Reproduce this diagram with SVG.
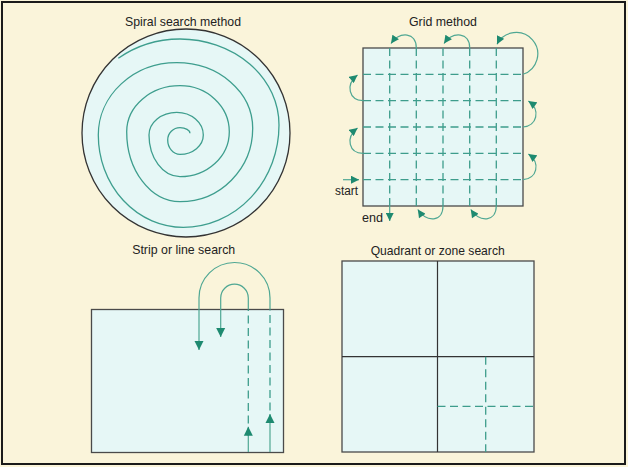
<svg xmlns="http://www.w3.org/2000/svg" width="628" height="467" viewBox="0 0 628 467">
<style>
.title{font-family:"Liberation Sans",Arial,sans-serif;font-size:13px;fill:#222;text-anchor:middle}
.lbl{font-family:"Liberation Sans",Arial,sans-serif;font-size:12.5px;fill:#222}
.box{fill:#E6F7F6;stroke:#4a4a4a;stroke-width:1.3}
.dash{fill:none;stroke:#3E9D8C;stroke-width:1.3;stroke-dasharray:8 4.5}
.loop{fill:none;stroke:#4FA793;stroke-width:1.2}
.solid{fill:none;stroke:#333;stroke-width:1.2}
.spiral{fill:none;stroke:#3E9E8E;stroke-width:1.3}
</style>
<defs>
<marker id="ah" viewBox="0 0 10 10" refX="10" refY="5" markerUnits="userSpaceOnUse" markerWidth="9" markerHeight="8" orient="auto">
<path d="M0,0 L10,5 L0,10 z" fill="#1E8A70"/>
</marker>
<marker id="ahl" viewBox="0 0 10 10" refX="10" refY="5" markerUnits="userSpaceOnUse" markerWidth="9" markerHeight="10" orient="auto">
<path d="M0,0 L10,5 L0,10 z" fill="#1E8A70"/>
</marker>
</defs>
<rect x="0" y="0" width="628" height="467" fill="#FAF4DA"/>
<rect x="2" y="2" width="623" height="462" fill="none" stroke="#1a1a1a" stroke-width="2"/>

<g id="spiral-panel">
<text class="title" x="183" y="26" textLength="116" lengthAdjust="spacingAndGlyphs">Spiral search method</text>
<circle cx="186" cy="133" r="104" fill="#E6F7F6" stroke="#333" stroke-width="1.3"/>
<path class="spiral" d="M190,133.3 A10,5.6 0 0 0 180,127.7 A12.3,12.3 0 0 0 167.7,140 A12.3,14.3 0 0 0 180,154.3 A23.3,19.3 0 0 0 203.3,135 A26.6,22.7 0 0 0 176.7,112.3 A27.7,22.7 0 0 0 149,135 A31,41.7 0 0 0 180,176.7 A49.3,45 0 0 0 229.3,131.7 A49.3,46 0 0 0 180,85.7 A53.3,46 0 0 0 126.7,131.7 A53.3,70 0 0 0 180,201.7 A72.7,73.4 0 0 0 252.7,128.3 A76,65.6 0 0 0 176.7,62.7 A78.4,72.3 0 0 0 98.3,135 A85,92.3 0 0 0 183.3,227.3 A95.7,102.3 0 0 0 279,125 A99,86 0 0 0 180,39 A99,86 0 0 0 118.3,58.3"/>
</g>

<g id="grid-panel">
<text class="title" x="443" y="26" textLength="68" lengthAdjust="spacingAndGlyphs">Grid method</text>
<rect class="box" x="363" y="48" width="160" height="158"/>
<path class="dash" d="M363,74.3 H523 M363,100.7 H523 M363,127 H523 M363,153.3 H523 M363,179.7 H523 M389.7,48 V206 M416.3,48 V206 M443,48 V206 M469.7,48 V206 M496.3,48 V206"/>
<text class="lbl" x="335" y="194.5" textLength="23" lengthAdjust="spacingAndGlyphs">start</text>
<text class="lbl" x="362" y="222" textLength="21" lengthAdjust="spacingAndGlyphs">end</text>
</g>

<g id="strip-panel">
<text class="title" x="183.7" y="254" textLength="103" lengthAdjust="spacingAndGlyphs">Strip or line search</text>
<rect class="box" x="91.5" y="309.5" width="192" height="143"/>
</g>

<g id="quadrant-panel">
<text class="title" x="437.7" y="254.5" textLength="134" lengthAdjust="spacingAndGlyphs">Quadrant or zone search</text>
<rect class="box" x="342" y="261" width="192" height="191"/>
<path class="solid" d="M437.5,261 V452 M342,356.7 H534"/>
<path class="dash" d="M485.7,356.7 V452 M437.5,406.3 H534"/>
</g>

<g id="connectors">
<path class="loop" d="M343,179.7 H359" marker-end="url(#ah)"/>
<path class="loop" d="M523,179.7 C537,179 541,163 528.4,154" marker-end="url(#ah)"/>
<path class="loop" d="M363,153.3 C349,153 345,138 357.5,128" marker-end="url(#ah)"/>
<path class="loop" d="M523,127 C537,126 541,110 528.4,101" marker-end="url(#ah)"/>
<path class="loop" d="M363,100.7 C349,100 345,85 357.5,75" marker-end="url(#ah)"/>
<path class="loop" d="M523,74.3 A21.5,21.5 0 1 0 497,44.3" marker-end="url(#ah)"/>
<path class="loop" d="M496.3,206 C496,222 480,223 470.8,209.5" marker-end="url(#ah)"/>
<path class="loop" d="M469.7,48 C470,32 453,31 444,43.5" marker-end="url(#ah)"/>
<path class="loop" d="M443,206 C443,222 427,223 417.8,209.5" marker-end="url(#ah)"/>
<path class="loop" d="M416.3,48 C416.5,32 400,31 391,43.5" marker-end="url(#ah)"/>
<path class="loop" d="M389.7,206 V221" marker-end="url(#ah)"/>

<path class="loop" d="M270,309.5 V298 A35.5,35.5 0 0 0 199,298 V350" marker-end="url(#ahl)"/>
<path class="loop" d="M248.3,309.5 V298 A13.8,13.8 0 0 0 220.7,298 V337" marker-end="url(#ahl)"/>
<path class="dash" d="M270,423 V309.5 M248.3,436 V309.5"/>
<path class="loop" d="M270,452 V414" marker-end="url(#ahl)"/>
<path class="loop" d="M248.3,452 V426.7" marker-end="url(#ahl)"/>
</g>
</svg>
